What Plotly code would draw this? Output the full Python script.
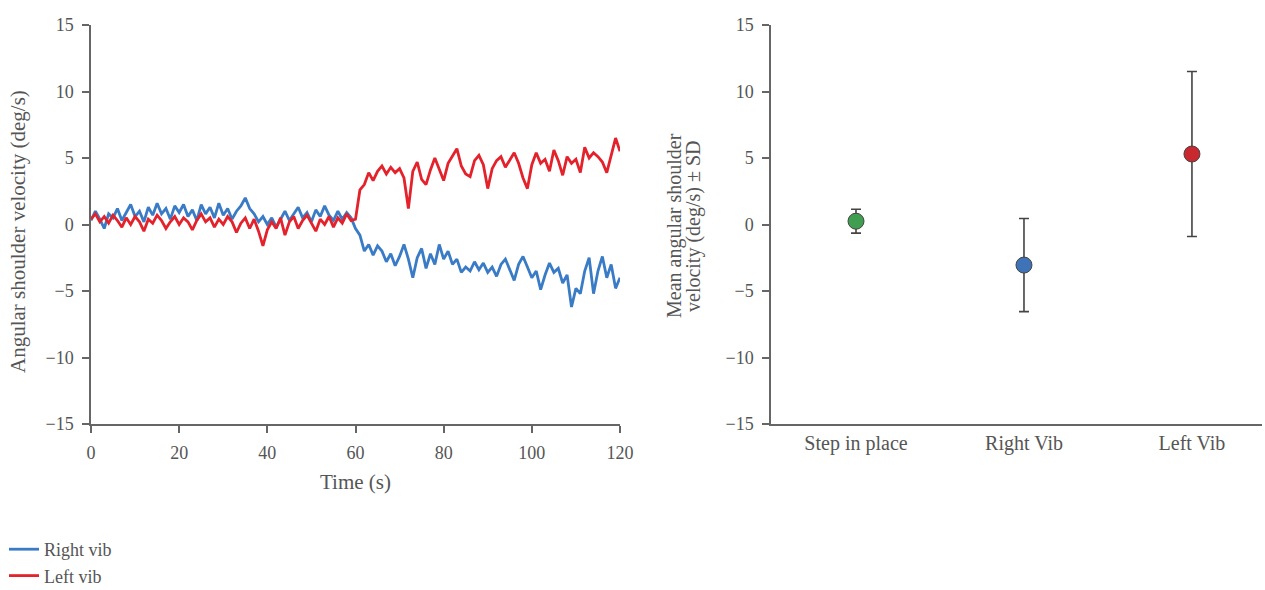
import plotly.graph_objects as go

time_s = list(range(0, 121))

right_vib = [
    0.3, 1.0, 0.4, -0.3, 0.8, 0.5, 1.2, 0.3, 0.9, 1.5,
    0.6, 1.0, 0.2, 1.3, 0.7, 1.6, 0.8, 1.2, 0.4, 1.4,
    0.9, 1.5, 0.6, 1.1, 0.3, 1.5, 0.8, 1.3, 0.5, 1.6,
    0.7, 1.2, 0.4, 1.0, 1.4, 2.0, 1.2, 0.8, 0.2, 0.6,
    0.0, 0.5, -0.2, 0.4, 1.0, 0.3, 0.8, 1.3, 0.5, 0.9,
    0.2, 1.1, 0.6, 1.4, 0.7, 0.3, 1.0, 0.4, 0.9, 0.5,
    -0.3, -0.8, -2.0, -1.5, -2.3, -1.6, -2.0, -2.8, -2.2, -3.1,
    -2.4, -1.5, -2.6, -4.0, -2.5, -1.8, -3.3, -2.2, -3.0, -1.5,
    -2.6, -2.0, -3.0, -2.6, -3.6, -3.2, -3.5, -2.8, -3.4, -2.9,
    -3.6, -3.2, -3.9, -3.0, -2.6, -3.4, -4.2, -3.0, -2.4, -3.2,
    -4.0, -3.5, -4.9, -3.8, -2.9, -3.6, -3.3, -4.4, -3.8, -6.2,
    -4.8, -5.2, -3.5, -2.5, -5.2, -3.5, -2.4, -4.0, -3.0, -4.8,
    -4.0,
]

left_vib = [
    0.4, 0.8, 0.2, 0.6, 0.1, 0.7, 0.3, -0.2, 0.5, 0.0,
    0.6, 0.2, -0.5, 0.4, 0.1, 0.7, 0.3, -0.3, 0.2, 0.6,
    0.0, 0.5, 0.2, -0.4, 0.3, 0.8, 0.2, 0.5, -0.2, 0.4,
    0.0, 0.6, 0.2, -0.6, 0.1, 0.5, -0.3, 0.4, -0.5, -1.6,
    -0.4, 0.2, -0.3, 0.5, -0.8, 0.2, 0.6, -0.3, 0.3, 0.7,
    0.1, -0.5, 0.4, 0.0, 0.6, -0.2, 0.5, 0.1, 0.8, 0.3,
    0.4, 2.6, 3.0, 3.9, 3.3, 4.0, 4.4, 3.8, 4.3, 3.9,
    4.2, 3.5, 1.2, 4.0, 4.7, 3.4, 3.0, 4.1, 5.0, 4.2,
    3.3, 4.6, 5.2, 5.7, 4.4, 3.8, 3.6, 4.8, 5.2, 4.5,
    2.7, 4.2, 4.8, 5.1, 4.3, 4.9, 5.4, 4.6, 3.5, 2.7,
    4.5, 5.4, 4.6, 4.9, 4.0, 5.6, 4.8, 3.7, 5.1, 4.6,
    4.9, 3.9, 5.8, 5.0, 5.4, 5.1, 4.7, 3.9, 5.2, 6.5,
    5.5,
]

conditions = ["Step in place", "Right Vib", "Left Vib"]
mean_vel = [0.25, -3.05, 5.3]
sd_vel = [0.9, 3.5, 6.2]
cond_colors = ["#3f9e50", "#3f73b8", "#c9282f"]

y_ticks = [-15, -10, -5, 0, 5, 10, 15]
x_ticks = [0, 20, 40, 60, 80, 100, 120]

FONT = "Liberation Serif"
TXT = "#555555"
AX = "#666666"
W, H = 1265, 590

fig = go.Figure()
fig.add_trace(go.Scatter(x=time_s, y=right_vib, mode="lines", name="Right vib",
                         line=dict(color="#3a7bc6", width=2.8), xaxis="x", yaxis="y"))
fig.add_trace(go.Scatter(x=time_s, y=left_vib, mode="lines", name="Left vib",
                         line=dict(color="#e3222b", width=2.8), xaxis="x", yaxis="y"))
fig.add_trace(go.Scatter(
    x=conditions, y=mean_vel, mode="markers", showlegend=False,
    marker=dict(color=cond_colors, size=16, line=dict(color="#444444", width=1)),
    error_y=dict(type="data", array=sd_vel, visible=True, color="#444444", thickness=1.6, width=5),
    xaxis="x2", yaxis="y2"))

axis_common = dict(showline=True, linecolor=AX, linewidth=1.5, ticks="outside", ticklen=7,
                   tickcolor=AX, tickwidth=1.5, showgrid=False, zeroline=False,
                   ticklabelstandoff=5,
                   tickfont=dict(family=FONT, size=18, color=TXT))

def label(text, x, y, size, angle=0):
    return dict(text=text, x=x / W, y=1 - y / H, xref="paper", yref="paper",
                xanchor="center", yanchor="middle", showarrow=False, textangle=angle,
                font=dict(family=FONT, size=size, color=TXT))

fig.update_layout(
    width=W, height=H,
    margin=dict(l=0, r=0, t=0, b=0, autoexpand=False),
    paper_bgcolor="white", plot_bgcolor="white",
    font=dict(family=FONT, color=TXT),
    xaxis=dict(domain=[91/W, 620/W], range=[0, 120], tickvals=x_ticks,
               anchor="y", **axis_common),
    yaxis=dict(domain=[1-424/H, 1-25/H], range=[-15, 15], tickvals=y_ticks,
               anchor="x", **axis_common),
    xaxis2=dict(domain=[771/W, 1262/W], range=[-0.506, 2.417], type="category",
                anchor="y2", **{**axis_common, "ticks": "", "ticklabelstandoff": 0,
                                "tickfont": dict(family=FONT, size=20, color=TXT)}),
    yaxis2=dict(domain=[1-424/H, 1-25/H], range=[-15, 15], tickvals=y_ticks,
                anchor="x2", **axis_common),
    showlegend=True,
    legend=dict(xref="container", yref="container", x=4/W, y=1-531/H,
                xanchor="left", yanchor="top",
                font=dict(family=FONT, size=18, color=TXT), itemwidth=30,
                bgcolor="rgba(0,0,0,0)", tracegroupgap=0),
    annotations=[
        label("Time (s)", 355, 482, 21),
        label("Angular shoulder velocity (deg/s)", 18, 232, 21, -90),
        label("Mean angular shoulder", 675, 226, 20, -90),
        label("velocity (deg/s) ± SD", 694, 226, 20, -90),
    ],
)

fig.write_html("out.html")
